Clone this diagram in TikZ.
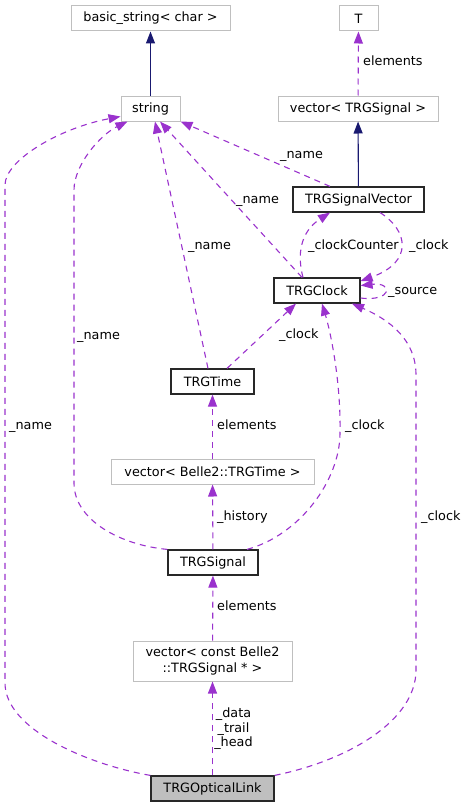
\documentclass[tikz,border=0pt]{standalone}
\usepackage{fontspec}
\setmainfont{DejaVu Sans}
\usetikzlibrary{arrows.meta}
\definecolor{depc}{RGB}{154,50,205}
\definecolor{inhc}{RGB}{25,25,112}
\definecolor{extc}{RGB}{191,191,191}
\definecolor{boxc}{RGB}{40,40,40}
\tikzset{
  box/.style={draw=boxc, line width=1.2pt, minimum height=25pt, inner sep=0pt, fill=white},
  extbox/.style={draw=extc, line width=1pt, minimum height=25pt, inner sep=0pt, fill=white},
  dep/.style={draw=depc, line width=1.1pt, dash pattern=on 6pt off 5pt, -{Triangle[length=12pt,width=9pt,fill=depc]}},
  inh/.style={draw=inhc, line width=1.1pt, -{Triangle[length=12pt,width=9pt,fill=inhc]}},
  lbl/.style={inner sep=0pt, anchor=west, text height=0.75em, text depth=0.25em, yshift=-1.5pt},
}
\begin{document}
\begin{tikzpicture}[x=1pt,y=-1pt,font=\fontsize{12.8}{16}\selectfont]
\useasboundingbox (0,0) rectangle (468,808);
% nodes
\node[extbox, minimum width=159pt] (bs) at (150.5,18.5) {basic\_string< char >};
\node[extbox, minimum width=39pt] (T) at (358.5,18.5) {T};
\node[extbox, minimum width=59pt] (str) at (150.5,108.5) {string};
\node[extbox, minimum width=160pt] (vts) at (358,108.5) {vector< TRGSignal >};
\node[box, minimum width=131pt] (tsv) at (358.5,199.5) {TRGSignalVector};
\node[box, minimum width=86pt] (clk) at (317,290.5) {TRGClock};
\node[box, minimum width=83pt] (time) at (212.5,381.5) {TRGTime};
\node[extbox, minimum width=203pt] (vbt) at (212.5,471.5) {vector< Belle2::TRGTime >};
\node[box, minimum width=90pt] (tsig) at (213,562.5) {TRGSignal};
\node[extbox, minimum width=159pt, minimum height=40pt, align=center] (vcs) at (212.5,661) {vector< const Belle2\\::TRGSignal * >};
\node[box, fill=extc, minimum width=123pt] (tol) at (212.5,788.5) {TRGOpticalLink};

% inheritance
\draw[inh] (str) -- (bs);
\draw[inh] (tsv) -- (vts);

% vector<TRGSignal> -> T
\draw[dep] (vts) -- (T);
\node[lbl] (l1) at (363,62) {elements};

% _name edges to string
\draw[dep] ([xshift=-28.5pt]tsv.north) -- (str.south east);
\node[lbl] (l2) at (280,154) {\_name};
\draw[dep] ([xshift=-15pt]clk.north) -- ([xshift=9.5pt]str.south);
\node[lbl] (l3) at (236,199) {\_name};
\draw[dep] ([xshift=-4.5pt]time.north) -- ([xshift=4.5pt]str.south);
\node[lbl] (l4) at (188,245) {\_name};
\draw[dep] (tsig.north west) .. controls (120,545) and (74,520) .. (74,483) -- (74,190) .. controls (74,165) and (100,135) .. ([xshift=7pt]str.south west);
\node[lbl] (l5) at (77,335) {\_name};
\draw[dep] (tol.north west) .. controls (90,765) and (5,730) .. (5,683) -- (5,185) .. controls (5,160) and (60,128) .. ([yshift=-8pt]str.west);
\node[lbl] (l6) at (9,425) {\_name};

% TRGClock <-> TRGSignalVector
\draw[dep] ([xshift=-14pt]clk.north) .. controls (297,255) and (300,232) .. ([xshift=-28.5pt]tsv.south);
\node[lbl] (l7) at (308,245) {\_clockCounter};
\draw[dep] ([xshift=21.5pt]tsv.south) .. controls (408,230) and (414,262) .. ([yshift=9.5pt]clk.east);
\node[lbl] (l8) at (409,245) {\_clock};
\draw[dep] ([yshift=-7.5pt]clk.east) .. controls (392,302) and (394,282) .. ([yshift=5pt]clk.east);
\node[lbl] (l9) at (388,290) {\_source};

% to TRGClock
\draw[dep] ([xshift=14.5pt]time.north) -- ([xshift=-21pt]clk.south);
\node[lbl] (l10) at (279,334) {\_clock};
\draw[dep] ([xshift=34pt]tsig.north) .. controls (300,535) and (340,480) .. (340,433) .. controls (341,380) and (330,330) .. ([xshift=5pt]clk.south);
\node[lbl] (l11) at (345,425) {\_clock};
\draw[dep] (tol.north east) .. controls (350,760) and (416,720) .. (416,670) -- (416,375) .. controls (416,340) and (390,320) .. ([xshift=35pt]clk.south);
\node[lbl] (l12) at (421,516) {\_clock};

% vertical chain
\draw[dep] (vbt) -- (time);
\node[lbl] (l13) at (217,425) {elements};
\draw[dep] (tsig) -- (vbt);
\node[lbl] (l14) at (217,516) {\_history};
\draw[dep] (vcs) -- (tsig);
\node[lbl] (l15) at (217,606) {elements};
\draw[dep] (tol) -- (vcs);
\node[inner sep=0pt, align=center, font=\fontsize{12.8}{14.5}\selectfont] (l16) at (233.5,729) {\_data\\\_trail\\\_head};
\end{tikzpicture}
\end{document}
